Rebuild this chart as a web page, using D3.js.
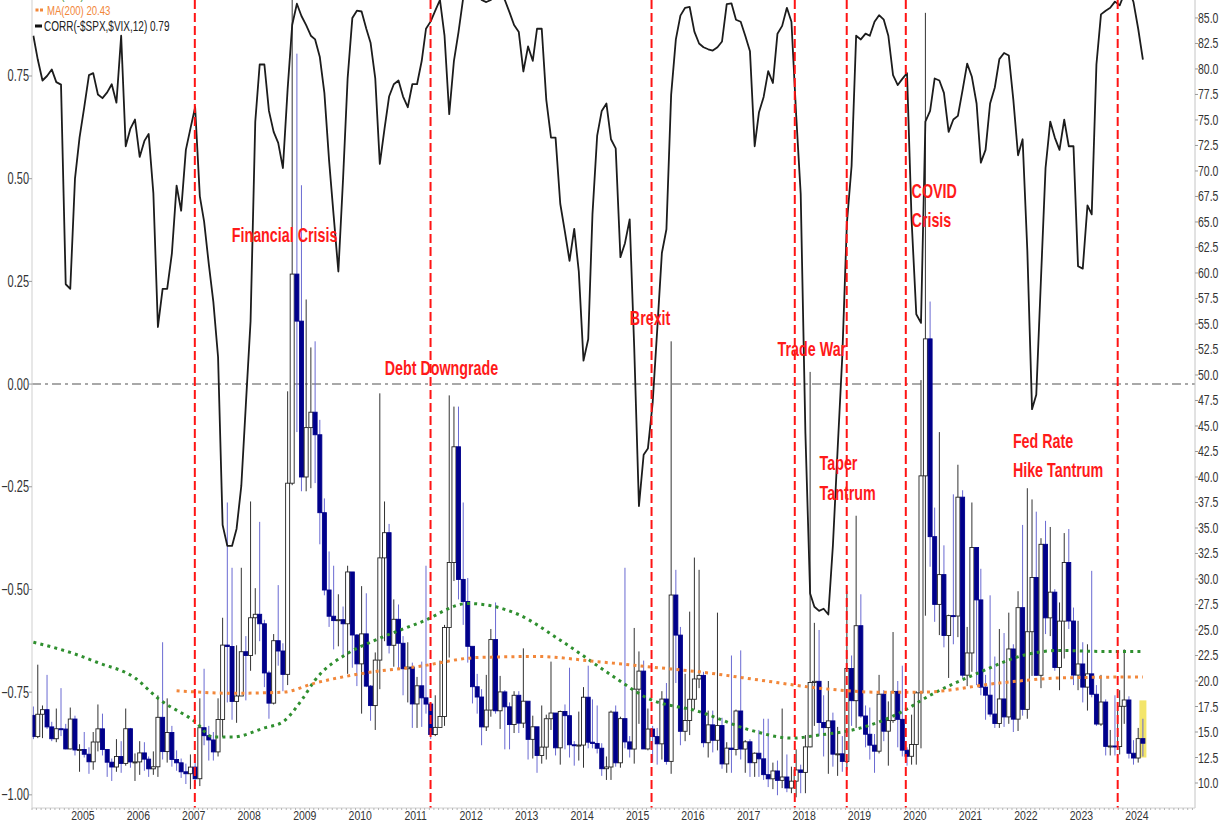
<!DOCTYPE html>
<html>
<head>
<meta charset="utf-8">
<title>$VIX monthly with CORR(-$SPX,$VIX,12)</title>
<script src="https://d3js.org/d3.v7.min.js"></script>
<style>
  body { margin: 0; background: #fff; }
  svg { display: block; font-family: "Liberation Sans", Arial, sans-serif; }
</style>
</head>
<body>
<script>
// ---- data: monthly $VIX bars, Feb 2004 .. Feb 2024 ----
var startYear = 2004, startMonth = 1;   // Feb 2004
var firstOpen = 16.63;                  // Jan 2004 close

var vixClose = [
  14.55,16.74,17.19,15.50,14.34,15.32,15.29,13.34,16.27,13.24,13.29,
  12.82,12.08,14.02,15.31,13.29,12.04,11.57,12.60,11.92,15.32,12.06,12.07,
  12.95,12.34,11.39,11.59,16.44,13.08,14.95,12.31,11.98,11.10,10.91,11.56,
  10.42,15.42,14.64,14.22,13.05,16.23,23.52,23.38,18.00,18.53,22.87,22.50,
  26.20,26.54,25.61,20.79,17.83,23.95,22.94,20.65,39.39,59.89,55.28,40.00,
  44.84,46.35,44.14,36.50,28.92,26.35,25.92,26.01,25.61,30.69,24.51,21.68,
  24.62,19.50,17.59,22.05,32.07,34.54,23.50,26.05,23.70,21.20,21.36,17.75,
  19.53,18.35,17.74,14.75,15.45,16.52,25.25,31.62,42.96,29.96,27.80,23.40,
  19.44,18.43,15.50,17.15,24.06,17.08,18.93,17.47,15.73,18.60,15.87,18.02,
  14.28,15.51,12.70,13.52,16.30,16.86,13.45,17.01,16.60,13.75,13.70,13.72,
  18.41,14.00,13.88,13.41,11.40,11.57,16.95,11.98,16.31,14.03,13.33,19.20,
  20.97,13.34,15.29,14.55,13.84,18.23,12.12,28.43,24.50,15.07,16.13,18.21,
  20.20,20.55,13.95,15.70,14.19,15.63,11.87,13.42,13.29,17.06,13.33,14.04,
  11.99,12.92,12.37,10.82,10.41,11.18,10.26,10.59,9.51,10.18,11.28,11.04,
  13.54,19.85,19.97,15.93,15.43,16.09,12.83,12.86,12.12,21.23,18.07,25.42,
  16.57,14.78,13.71,13.12,18.71,15.08,16.12,18.98,16.24,13.22,12.62,13.78,
  18.84,40.11,53.54,34.15,27.51,30.43,24.46,26.41,26.37,38.02,20.57,22.75,
  33.09,27.95,19.40,18.61,16.76,15.83,18.24,16.48,23.14,16.26,27.19,17.22,
  24.83,30.15,20.56,33.40,26.19,28.71,21.33,25.87,31.62,25.88,20.58,21.67,
  19.40,20.70,18.70,15.78,17.94,13.59,13.63,13.57,17.52,18.14,12.92,12.45,
  14.35,13.90
];
var vixHigh = [
  17.5,21.6,17.6,20.6,16.0,17.3,19.3,15.8,17.4,16.6,13.8,
  15.0,13.5,15.0,17.7,16.8,13.3,12.4,14.3,14.1,17.3,15.4,12.9,
  14.1,14.0,12.6,13.1,18.6,23.8,18.3,15.6,13.2,12.4,11.9,12.8,
  12.8,18.3,21.2,15.6,15.0,18.3,26.2,37.5,31.1,23.5,31.1,24.4,
  37.6,29.1,35.6,26.0,21.0,24.6,29.4,23.7,48.4,89.5,81.5,68.6,
  57.4,52.7,53.3,45.6,37.9,32.7,31.3,28.5,27.3,31.3,28.0,24.6,
  29.3,28.6,19.6,22.8,48.2,37.6,35.4,28.0,27.5,24.4,23.8,21.8,
  20.4,21.9,31.3,17.8,18.6,22.0,25.5,48.0,46.9,46.9,37.5,30.1,
  23.3,20.7,19.2,20.6,25.1,27.7,20.5,19.1,17.9,19.0,19.0,23.2,
  18.0,16.6,15.2,17.6,16.7,21.9,16.6,17.1,17.7,21.3,14.1,17.0,
  19.4,21.5,18.2,17.6,13.9,12.6,17.1,17.6,16.5,31.1,14.6,25.2,
  22.9,22.0,17.3,15.6,15.4,19.0,19.8,53.3,30.9,25.3,20.7,26.8,
  32.1,30.9,20.9,17.1,17.1,26.7,16.4,14.0,22.5,17.2,23.0,14.2,
  14.3,13.0,15.2,16.3,16.3,12.0,12.2,17.3,12.8,11.6,13.3,11.8,
  14.7,50.3,25.7,25.0,18.6,20.0,16.9,15.5,14.6,28.8,22.5,36.2,
  28.5,17.6,17.4,14.8,20.6,19.1,18.0,24.8,20.0,21.5,13.5,16.7,
  19.0,49.5,85.5,57.2,37.0,44.4,33.3,26.5,38.3,41.2,38.7,25.3,
  37.5,31.2,31.0,20.6,28.4,22.4,25.1,24.7,26.7,23.6,28.8,35.3,
  38.9,37.8,36.6,34.0,35.7,35.1,29.0,27.7,34.5,34.9,27.2,25.9,
  23.8,23.6,30.8,19.6,20.6,18.2,15.2,18.6,19.1,23.1,18.5,14.2,
  15.4,16.3
];
var vixLow = [
  14.3,14.4,14.4,15.3,14.1,14.0,14.6,13.3,13.3,12.7,11.1,
  12.5,10.9,11.3,13.1,12.7,10.6,10.2,11.1,11.0,11.7,11.5,10.2,
  10.8,11.2,10.6,10.8,10.6,12.3,12.0,11.6,11.2,10.5,9.9,9.4,
  9.7,9.7,13.7,12.2,12.2,12.6,14.5,17.9,16.2,15.9,18.6,18.1,
  21.0,22.6,23.9,19.4,16.3,17.7,21.5,19.0,19.6,39.2,44.4,38.6,
  38.6,38.9,39.4,33.4,28.4,25.3,23.1,23.4,22.4,20.7,21.3,19.5,
  16.8,19.4,16.1,15.2,19.2,23.9,22.7,21.4,21.1,18.6,17.9,15.4,
  15.4,15.5,16.8,14.3,14.6,15.6,15.6,22.3,29.8,28.0,25.5,21.8,
  17.8,16.8,13.7,15.1,16.5,16.8,15.3,13.3,13.3,14.9,14.9,15.4,
  12.3,12.4,11.0,11.9,12.3,15.2,12.7,11.8,13.3,12.5,11.7,12.2,
  11.5,13.4,13.4,12.9,10.7,10.3,10.3,11.6,11.5,13.4,12.5,11.9,
  15.8,13.4,13.2,12.0,11.8,12.3,11.8,10.9,19.8,13.7,14.1,14.7,
  17.2,19.3,13.5,12.5,13.0,13.2,11.4,11.0,11.0,12.7,12.3,11.0,
  10.6,10.6,10.6,10.3,9.6,9.4,8.8,9.5,9.1,9.0,8.6,9.0,
  9.0,13.5,15.6,14.6,12.6,10.9,11.6,10.7,11.1,11.3,15.6,15.4,
  16.4,13.5,12.3,11.0,12.9,14.1,11.7,15.9,13.5,12.6,11.7,11.8,
  11.8,13.4,26.4,31.2,25.8,24.5,23.3,20.3,23.6,24.3,20.3,19.5,
  20.9,19.6,18.6,16.2,16.5,15.4,15.4,15.5,15.8,15.0,15.1,16.6,
  16.3,20.5,20.5,19.3,24.6,24.4,21.0,19.1,22.2,25.1,19.6,19.1,
  17.9,17.1,18.4,15.6,15.6,12.7,12.7,12.7,12.8,15.8,12.4,11.8,
  12.0,12.6
];
// range box shown behind the current bar
var currentBarBox = [12.5, 18.1];

// CORR(-$SPX,$VIX,12), same months as the bars
var corr = [
  0.848,0.79,0.739,0.75,0.766,0.735,0.729,0.243,0.232,0.500,0.60,
  0.674,0.752,0.757,0.705,0.696,0.71,0.730,0.685,0.848,0.579,0.622,0.644,
  0.553,0.592,0.609,0.465,0.139,0.232,0.232,0.318,0.483,0.422,0.570,0.622,
  0.674,0.457,0.396,0.292,0.20,0.066,-0.343,-0.394,-0.394,-0.352,-0.248,-0.05,
  0.153,0.639,0.778,0.778,0.665,0.614,0.587,0.526,0.718,0.874,0.926,0.896,
  0.874,0.848,0.839,0.796,0.709,0.544,0.41,0.274,0.500,0.744,0.891,0.909,
  0.907,0.865,0.831,0.744,0.536,0.622,0.700,0.730,0.739,0.700,0.674,0.730,
  0.730,0.787,0.865,0.883,0.909,0.935,0.848,0.657,0.787,0.857,0.94,0.96,
  0.97,0.96,0.935,0.93,0.935,0.95,0.95,0.935,0.905,0.874,0.857,0.761,
  0.822,0.787,0.865,0.865,0.692,0.600,0.600,0.439,0.37,0.300,0.378,0.274,
  0.057,0.109,0.413,0.605,0.665,0.683,0.596,0.574,0.309,0.343,0.401,0.088,
  -0.297,-0.172,-0.157,-0.047,0.13,0.319,0.377,0.704,0.839,0.897,0.916,0.918,
  0.858,0.829,0.82,0.815,0.812,0.82,0.834,0.925,0.927,0.887,0.882,0.848,
  0.810,0.579,0.661,0.699,0.762,0.733,0.853,0.872,0.916,0.882,0.656,0.463,
  -0.12,-0.51,-0.542,-0.552,-0.547,-0.561,-0.393,-0.16,0.069,0.391,0.531,0.848,
  0.839,0.853,0.848,0.882,0.898,0.887,0.848,0.752,0.728,0.743,0.757,0.40,
  0.17,0.149,0.639,0.665,0.744,0.739,0.709,0.614,0.644,0.653,0.716,0.780,
  0.748,0.683,0.539,0.570,0.683,0.722,0.791,0.806,0.800,0.692,0.557,0.596,
  0.326,-0.061,-0.026,0.257,0.526,0.639,0.600,0.570,0.644,0.579,0.579,0.287,
  0.281,0.435,0.413,0.778,0.900,0.909,0.916,0.931,0.922,0.95,0.96,0.93,
  0.865,0.79
];

// moving averages
var ma200Dates  = ["2006-09","2007-09","2008-08","2009-03","2010-02","2011-01","2012-02","2013-03","2014-04","2015-03","2016-02","2017-03","2018-04","2019-05","2020-02","2021-07","2022-08","2024-02"];
var ma200Values = [19.05,18.8,18.9,19.8,20.8,21.4,22.3,22.4,21.9,21.4,20.9,20.1,19.3,18.9,18.9,19.8,20.3,20.4];
var maGreenDates  = ["2004-02","2004-10","2005-04","2005-12","2006-05","2007-01","2007-05","2007-09","2008-04","2008-08","2008-12","2009-03","2009-10","2010-04","2011-02","2011-12","2012-11","2013-08","2014-07","2015-03","2016-02","2017-01","2017-10","2018-04","2019-01","2019-10","2020-04","2021-03","2021-12","2022-08","2023-05","2024-02"];
var maGreenValues = [23.8,22.8,21.8,20.3,18.3,16.0,14.5,14.5,15.4,16.0,18.1,20.1,22.7,24.0,25.8,27.6,26.5,24.0,20.6,18.3,17.0,15.2,14.4,14.7,15.4,17.0,18.6,20.9,22.5,23.0,22.9,22.9];

// event lines and labels
var eventDates = ["2007-01-08","2011-04-09","2015-04-03","2017-11-01","2018-10-09","2019-11-02","2023-08-28"];
var notes = [
  {lines: ["Financial Crisis"], date: "2007-09-08", vix: [63.0]},
  {lines: ["Debt Downgrade"], date: "2010-06-11", vix: [50.0]},
  {lines: ["Brexit"], date: "2014-11-11", vix: [54.9]},
  {lines: ["Trade War"], date: "2017-07-11", vix: [51.9]},
  {lines: ["Taper", "Tantrum"], date: "2018-04-13", vix: [40.7, 37.75]},
  {lines: ["COVID", "Crisis"], date: "2019-12-10", vix: [67.35, 64.5]},
  {lines: ["Fed Rate", "Hike Tantrum"], date: "2021-10-07", vix: [42.85, 39.95]}
];

// axes
var yearLabels = ["2005","2006","2007","2008","2009","2010","2011","2012","2013","2014","2015","2016","2017","2018","2019","2020","2021","2022","2023","2024"];
var rightTicks = [10,12.5,15,17.5,20,22.5,25,27.5,30,32.5,35,37.5,40,42.5,45,47.5,50,52.5,55,57.5,60,62.5,65,67.5,70,72.5,75,77.5,80,82.5,85];
var leftTicks = [-1,-0.75,-0.5,-0.25,0,0.25,0.5,0.75];

// ---- chart ----
var W = 1223, H = 821;
var plot = {left: 32, right: 1195, top: 0, bottom: 808};
var SY = 1.42; // the picture's lettering is tall and narrow

var svg = d3.select("body").append("svg")
    .attr("width", W)
    .attr("height", H);

svg.append("rect").attr("width", W).attr("height", H).attr("fill", "white");

var parseMonth = d3.timeParse("%Y-%m");
var parseDay = d3.timeParse("%Y-%m-%d");

var x = d3.scaleTime()
    .domain([new Date(2004, 1, 1), new Date(2025, 0, 18)])
    .range([plot.left, plot.right]);
var yR = d3.scaleLinear().domain([7.55, 86.76]).range([plot.bottom, plot.top]);
var yL = d3.scaleLinear().domain([-1.032, 0.935]).range([plot.bottom, plot.top]);

function barDate(i) { return new Date(startYear, startMonth + i, 10); }
function midMonth(s) { var d = parseMonth(s); d.setDate(10); return d; }

var bars = vixClose.map(function(c, i) {
  return {
    date: barDate(i),
    open: i ? vixClose[i - 1] : firstOpen,
    high: vixHigh[i],
    low: vixLow[i],
    close: c
  };
});

svg.append("clipPath").attr("id", "plotClip")
  .append("rect")
    .attr("x", plot.left).attr("y", plot.top)
    .attr("width", plot.right - plot.left)
    .attr("height", plot.bottom - plot.top);

var g = svg.append("g").attr("clip-path", "url(#plotClip)");

// zero line of the correlation panel
g.append("line")
    .attr("x1", plot.left).attr("x2", plot.right)
    .attr("y1", yL(0)).attr("y2", yL(0))
    .attr("stroke", "#8c8c8c")
    .attr("stroke-width", 1.5)
    .attr("stroke-dasharray", "9,4,3,4");

// highlight box behind the last bar
var last = bars[bars.length - 1];
g.append("rect")
    .attr("x", x(last.date) - 3.5)
    .attr("width", 7)
    .attr("y", yR(currentBarBox[1]))
    .attr("height", yR(currentBarBox[0]) - yR(currentBarBox[1]))
    .attr("fill", "#f3e56a");

// candles: hollow black when up, filled navy when down
var bodyW = 4;
var candle = g.append("g").selectAll("g")
  .data(bars)
  .join("g");

candle.append("line")
    .attr("x1", function(d) { return x(d.date); })
    .attr("x2", function(d) { return x(d.date); })
    .attr("y1", function(d) { return yR(d.high); })
    .attr("y2", function(d) { return yR(d.low); })
    .attr("stroke", function(d) { return d.close >= d.open ? "#333" : "#6a6ad2"; })
    .attr("stroke-width", 1);

candle.append("rect")
    .attr("x", function(d) { return x(d.date) - bodyW / 2; })
    .attr("width", bodyW)
    .attr("y", function(d) { return yR(Math.max(d.open, d.close)); })
    .attr("height", function(d) { return Math.max(1, Math.abs(yR(d.open) - yR(d.close))); })
    .attr("fill", function(d) { return d.close >= d.open ? "white" : "#00008b"; })
    .attr("stroke", function(d) { return d.close >= d.open ? "#222" : "#00008b"; })
    .attr("stroke-width", 0.9);

// moving averages
var maLine = d3.line()
    .x(function(d) { return x(d[0]); })
    .y(function(d) { return yR(d[1]); })
    .curve(d3.curveMonotoneX);

g.append("path")
    .attr("d", maLine(maGreenDates.map(function(s, i) { return [midMonth(s), maGreenValues[i]]; })))
    .attr("fill", "none")
    .attr("stroke", "#2f8f2f")
    .attr("stroke-width", 3)
    .attr("stroke-dasharray", "3,4.2");

g.append("path")
    .attr("d", maLine(ma200Dates.map(function(s, i) { return [midMonth(s), ma200Values[i]]; })))
    .attr("fill", "none")
    .attr("stroke", "#f2873a")
    .attr("stroke-width", 3)
    .attr("stroke-dasharray", "3,4.2");

// correlation line
var corrLine = d3.line()
    .x(function(d, i) { return x(barDate(i)); })
    .y(function(d) { return yL(d); });

g.append("path")
    .attr("d", corrLine(corr))
    .attr("fill", "none")
    .attr("stroke", "#1c1c1c")
    .attr("stroke-width", 1.8)
    .attr("stroke-linejoin", "round");

// event lines
g.selectAll(".event")
  .data(eventDates)
  .join("line")
    .attr("class", "event")
    .attr("x1", function(d) { return x(parseDay(d)); })
    .attr("x2", function(d) { return x(parseDay(d)); })
    .attr("y1", plot.top).attr("y2", plot.bottom)
    .attr("stroke", "#ff1414")
    .attr("stroke-width", 2)
    .attr("stroke-dasharray", "9,4");

// stretched text helper
function label(parent, tx, ty, str, opts) {
  var t = parent.append("g")
      .attr("transform", "translate(" + tx + "," + ty + ") scale(1," + (opts.sy || SY) + ")")
    .append("text")
      .attr("font-size", opts.size)
      .attr("fill", opts.color || "#333")
      .attr("text-anchor", opts.anchor || "start")
      .text(str);
  if (opts.weight) t.attr("font-weight", opts.weight);
  return t;
}

// event labels
notes.forEach(function(n) {
  n.lines.forEach(function(line, k) {
    label(svg, x(parseDay(n.date)), yR(n.vix[k]), line,
      {size: 14.3, color: "#ff1a1a", weight: "bold"});
  });
});

// frame
svg.append("line")
    .attr("x1", plot.left).attr("x2", plot.left)
    .attr("y1", plot.top).attr("y2", plot.bottom)
    .attr("stroke", "#cfcfcf");
svg.append("line")
    .attr("x1", plot.right).attr("x2", plot.right)
    .attr("y1", plot.top).attr("y2", plot.bottom)
    .attr("stroke", "#c4c4c4");
svg.append("line")
    .attr("x1", plot.left).attr("x2", plot.right)
    .attr("y1", plot.bottom).attr("y2", plot.bottom)
    .attr("stroke", "#d0d0d0");

// bottom axis: month ticks and year labels
svg.append("g").selectAll("line")
  .data(d3.timeMonth.range(x.domain()[0], x.domain()[1]))
  .join("line")
    .attr("x1", function(d) { return x(d); })
    .attr("x2", function(d) { return x(d); })
    .attr("y1", plot.bottom).attr("y2", plot.bottom + 2)
    .attr("stroke", "#b5b5b5");

yearLabels.forEach(function(yr) {
  label(svg, x(new Date(+yr, 0, 1)), plot.bottom + 11.5, yr,
    {size: 10.5, anchor: "middle", color: "#333", sy: 1.15});
});

// right axis ($VIX)
rightTicks.forEach(function(v) {
  svg.append("line")
      .attr("x1", plot.right).attr("x2", plot.right + 3)
      .attr("y1", yR(v)).attr("y2", yR(v))
      .attr("stroke", "#999");
  label(svg, plot.right + 3, yR(v) + 5, d3.format(".1f")(v),
    {size: 10.5, color: "#333"});
});

// left axis (correlation)
leftTicks.forEach(function(v) {
  svg.append("line")
      .attr("x1", plot.left - 3).attr("x2", plot.left)
      .attr("y1", yL(v)).attr("y2", yL(v))
      .attr("stroke", "#999");
  label(svg, plot.left - 3, yL(v) + 5.5, d3.format(".2f")(v),
    {size: 11, anchor: "end", color: "#333"});
});

// legend (top line is cropped in the picture)
label(svg, 47, -1, "MA(100) 22.90", {size: 9.6, color: "#2f8f2f"});

svg.append("rect").attr("x", 35.5).attr("y", 8.5).attr("width", 3).attr("height", 3).attr("fill", "#f2873a");
svg.append("rect").attr("x", 40).attr("y", 8.5).attr("width", 3).attr("height", 3).attr("fill", "#f2873a");
label(svg, 47, 14.5, "MA(200) 20.43", {size: 9.6, color: "#f2873a"});

svg.append("rect").attr("x", 35).attr("y", 24.5).attr("width", 7).attr("height", 3).attr("fill", "#111");
label(svg, 44, 31, "CORR(-$SPX,$VIX,12) 0.79", {size: 10, color: "#222"});
</script>
</body>
</html>
